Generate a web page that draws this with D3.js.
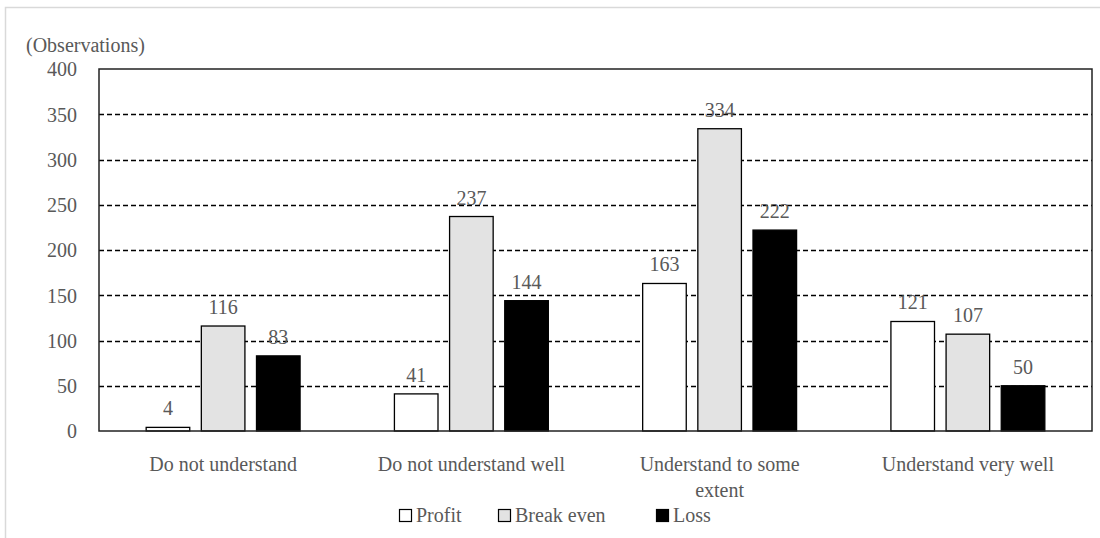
<!DOCTYPE html>
<html>
<head>
<meta charset="utf-8">
<script src="https://cdn.jsdelivr.net/npm/d3@7"></script>
<style>
  html, body { margin: 0; padding: 0; background: #fff; }
  svg { display: block; }
</style>
</head>
<body>
<svg id="chart" width="1100" height="538"></svg>
<script>
// Categories and series
const categories = ["Do not understand", "Do not understand well", "Understand to some extent", "Understand very well"];
const seriesNames = ["Profit", "Break even", "Loss"];
const profit = [4, 41, 163, 121];
const breakEven = [116, 237, 334, 107];
const loss = [83, 144, 222, 50];
const yTicks = [0, 50, 100, 150, 200, 250, 300, 350, 400];
const yTitle = "(Observations)";

const seriesValues = [profit, breakEven, loss];
const seriesFill = ["#ffffff", "#e3e3e3", "#000000"];
const TEXT = "#595959";

// Pick the first installed serif face by comparing glyph widths against generic fallbacks
function pickFont(candidates) {
  const ctx = document.createElement("canvas").getContext("2d");
  const sample = "mmmmmmmmmmlliiWW0123 Observations";
  const base = ["monospace", "sans-serif"].map(g => { ctx.font = `40px ${g}`; return ctx.measureText(sample).width; });
  for (const f of candidates) {
    const differs = ["monospace", "sans-serif"].every((g, i) => {
      ctx.font = `40px "${f}", ${g}`;
      return Math.abs(ctx.measureText(sample).width - base[i]) > 0.5;
    });
    if (differs) return f;
  }
  return "serif";
}
const FONT = pickFont(["Liberation Serif", "Times New Roman", "Tinos", "Noto Serif", "DejaVu Serif"]);

const svg = d3.select("#chart").attr("font-family", FONT);
svg.append("style").text(`text { font-family: "${FONT}", serif; }`);
const W = 1100, H = 538;
const m = { left: 99, top: 69, right: 1092, bottom: 431 };

// Outer frame
svg.append("rect")
  .attr("x", 5.5).attr("y", 7.5)
  .attr("width", W + 10).attr("height", H + 10)
  .attr("fill", "none").attr("stroke", "#d9d9d9").attr("stroke-width", 1.5);

const x = d3.scaleBand().domain(categories).range([m.left, m.right]).paddingInner(0).paddingOuter(0);
const y = d3.scaleLinear().domain([0, 400]).range([m.bottom, m.top]);

const groupW = x.bandwidth() * 0.62;
const xs = d3.scaleBand().domain(seriesNames).range([-groupW / 2, groupW / 2]).paddingInner(0.21);

// Dashed gridlines
svg.append("g")
  .selectAll("line")
  .data(yTicks.filter(t => t > 0 && t < 400))
  .join("line")
  .attr("x1", m.left).attr("x2", m.right)
  .attr("y1", d => Math.round(y(d)) + 0.5).attr("y2", d => Math.round(y(d)) + 0.5)
  .attr("stroke", "#000").attr("stroke-width", 1.3)
  .attr("stroke-dasharray", "5,3");

// Y axis tick labels
const yAxis = d3.axisLeft(y).tickValues(yTicks).tickSize(0).tickPadding(0);
const gy = svg.append("g").attr("transform", `translate(${m.left - 22},0)`).call(yAxis);
gy.attr("font-family", FONT).attr("font-size", 20);
gy.select(".domain").remove();
gy.selectAll("text")
  .attr("dy", "0.34em")
  .attr("fill", TEXT);

// Y title
svg.append("text")
  .attr("x", 26).attr("y", 52)
  .attr("font-size", 20)
  .attr("fill", TEXT)
  .text(yTitle);

// Bars
const groups = svg.append("g").selectAll("g")
  .data(categories)
  .join("g")
  .attr("transform", d => `translate(${x(d) + x.bandwidth() / 2},0)`);

seriesNames.forEach((s, si) => {
  groups.append("rect")
    .attr("x", xs(s))
    .attr("width", xs.bandwidth())
    .attr("y", (d, i) => y(seriesValues[si][i]))
    .attr("height", (d, i) => y(0) - y(seriesValues[si][i]))
    .attr("fill", seriesFill[si])
    .attr("stroke", "#000").attr("stroke-width", 1.3);

  groups.append("text")
    .attr("x", xs(s) + xs.bandwidth() / 2)
    .attr("y", (d, i) => y(seriesValues[si][i]) - 12)
    .attr("text-anchor", "middle")
    .attr("font-size", 20)
    .attr("fill", TEXT)
    .text((d, i) => seriesValues[si][i]);
});

// Plot border
svg.append("rect")
  .attr("x", m.left).attr("y", m.top)
  .attr("width", m.right - m.left).attr("height", m.bottom - m.top)
  .attr("fill", "none").attr("stroke", "#222").attr("stroke-width", 1.5);

// Category labels, wrapped where a label is longer than its slot
const xAxis = d3.axisBottom(x).tickSize(0).tickPadding(0);
const gx = svg.append("g").attr("transform", `translate(0,${m.bottom})`).call(xAxis);
gx.attr("font-family", FONT).attr("font-size", 20);
gx.select(".domain").remove();
gx.selectAll("text").remove();
const maxLine = 22; // characters per line
gx.selectAll(".tick").each(function (d) {
  const t = d3.select(this).append("text")
    .attr("text-anchor", "middle")
    .attr("fill", TEXT);
  const words = d.split(" ");
  const lines = [];
  let cur = "";
  words.forEach(w => {
    const next = cur ? cur + " " + w : w;
    if (next.length > maxLine && cur) { lines.push(cur); cur = w; }
    else cur = next;
  });
  lines.push(cur);
  lines.forEach((l, i) => {
    t.append("tspan").attr("x", 0).attr("y", 40 + i * 26).text(l);
  });
});

// Legend
const legendItems = [
  { name: seriesNames[0], fill: seriesFill[0], x: 399 },
  { name: seriesNames[1], fill: seriesFill[1], x: 498 },
  { name: seriesNames[2], fill: seriesFill[2], x: 656 }
];
const lg = svg.append("g").selectAll("g").data(legendItems).join("g")
  .attr("transform", d => `translate(${d.x},0)`);
lg.append("rect")
  .attr("x", 0.5).attr("y", 509.5).attr("width", 12).attr("height", 12)
  .attr("fill", d => d.fill).attr("stroke", "#000").attr("stroke-width", 1.2);
lg.append("text")
  .attr("x", 17).attr("y", 522)
  .attr("font-size", 20)
  .attr("fill", TEXT)
  .text(d => d.name);
</script>
</body>
</html>
